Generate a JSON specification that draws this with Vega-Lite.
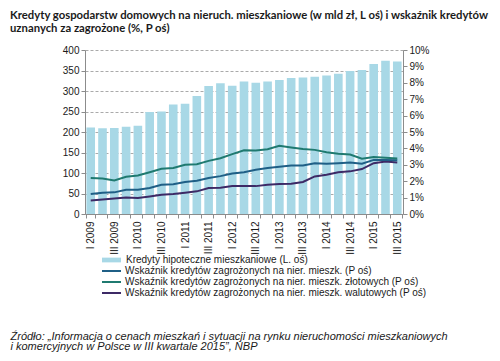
{
  "$schema": "https://vega.github.io/schema/vega-lite/v6.json",
  "autosize": "none",
  "width": 318,
  "height": 164,
  "padding": {"left": 85, "top": 50, "right": 97, "bottom": 147},
  "background": "white",
  "title": {
    "text": ["Kredyty gospodarstw domowych na nieruch. mieszkaniowe (w mld zł, L oś) i wskaźnik kredytów", "uznanych za zagrożone (%, P oś)"],
    "anchor": "start",
    "frame": "group",
    "font": "Lato",
    "fontSize": 11.3,
    "fontWeight": "bold",
    "color": "#1a1a1a",
    "dx": -75,
    "offset": 11,
    "lineHeight": 12.5
  },
  "datasets": {
    "kredyty": [
      {"q": "I 2009", "mld": 211}, {"q": "II 2009", "mld": 209}, {"q": "III 2009", "mld": 210}, {"q": "IV 2009", "mld": 213},
      {"q": "I 2010", "mld": 215}, {"q": "II 2010", "mld": 249}, {"q": "III 2010", "mld": 250}, {"q": "IV 2010", "mld": 267},
      {"q": "I 2011", "mld": 269}, {"q": "II 2011", "mld": 288}, {"q": "III 2011", "mld": 312}, {"q": "IV 2011", "mld": 319},
      {"q": "I 2012", "mld": 313}, {"q": "II 2012", "mld": 323}, {"q": "III 2012", "mld": 320}, {"q": "IV 2012", "mld": 323},
      {"q": "I 2013", "mld": 327}, {"q": "II 2013", "mld": 332}, {"q": "III 2013", "mld": 333}, {"q": "IV 2013", "mld": 335},
      {"q": "I 2014", "mld": 338}, {"q": "II 2014", "mld": 342}, {"q": "III 2014", "mld": 349}, {"q": "IV 2014", "mld": 351},
      {"q": "I 2015", "mld": 366}, {"q": "II 2015", "mld": 374}, {"q": "III 2015", "mld": 372}
    ],
    "wskazniki": [
      {"q": "I 2009", "s": "w", "p": 0.83}, {"q": "II 2009", "s": "w", "p": 0.89}, {"q": "III 2009", "s": "w", "p": 0.95}, {"q": "IV 2009", "s": "w", "p": 1.01},
      {"q": "I 2010", "s": "w", "p": 0.97}, {"q": "II 2010", "s": "w", "p": 1.07}, {"q": "III 2010", "s": "w", "p": 1.18}, {"q": "IV 2010", "s": "w", "p": 1.22},
      {"q": "I 2011", "s": "w", "p": 1.30}, {"q": "II 2011", "s": "w", "p": 1.38}, {"q": "III 2011", "s": "w", "p": 1.58}, {"q": "IV 2011", "s": "w", "p": 1.60},
      {"q": "I 2012", "s": "w", "p": 1.70}, {"q": "II 2012", "s": "w", "p": 1.70}, {"q": "III 2012", "s": "w", "p": 1.70}, {"q": "IV 2012", "s": "w", "p": 1.78},
      {"q": "I 2013", "s": "w", "p": 1.83}, {"q": "II 2013", "s": "w", "p": 1.85}, {"q": "III 2013", "s": "w", "p": 1.95}, {"q": "IV 2013", "s": "w", "p": 2.29},
      {"q": "I 2014", "s": "w", "p": 2.39}, {"q": "II 2014", "s": "w", "p": 2.55}, {"q": "III 2014", "s": "w", "p": 2.60}, {"q": "IV 2014", "s": "w", "p": 2.74},
      {"q": "I 2015", "s": "w", "p": 3.10}, {"q": "II 2015", "s": "w", "p": 3.20}, {"q": "III 2015", "s": "w", "p": 3.14},
      {"q": "I 2009", "s": "o", "p": 1.22}, {"q": "II 2009", "s": "o", "p": 1.30}, {"q": "III 2009", "s": "o", "p": 1.32}, {"q": "IV 2009", "s": "o", "p": 1.48},
      {"q": "I 2010", "s": "o", "p": 1.48}, {"q": "II 2010", "s": "o", "p": 1.58}, {"q": "III 2010", "s": "o", "p": 1.78}, {"q": "IV 2010", "s": "o", "p": 1.82},
      {"q": "I 2011", "s": "o", "p": 1.95}, {"q": "II 2011", "s": "o", "p": 2.03}, {"q": "III 2011", "s": "o", "p": 2.19}, {"q": "IV 2011", "s": "o", "p": 2.31},
      {"q": "I 2012", "s": "o", "p": 2.47}, {"q": "II 2012", "s": "o", "p": 2.55}, {"q": "III 2012", "s": "o", "p": 2.70}, {"q": "IV 2012", "s": "o", "p": 2.80},
      {"q": "I 2013", "s": "o", "p": 2.88}, {"q": "II 2013", "s": "o", "p": 2.96}, {"q": "III 2013", "s": "o", "p": 2.96}, {"q": "IV 2013", "s": "o", "p": 3.10},
      {"q": "I 2014", "s": "o", "p": 3.06}, {"q": "II 2014", "s": "o", "p": 3.10}, {"q": "III 2014", "s": "o", "p": 3.14}, {"q": "IV 2014", "s": "o", "p": 3.06},
      {"q": "I 2015", "s": "o", "p": 3.30}, {"q": "II 2015", "s": "o", "p": 3.30}, {"q": "III 2015", "s": "o", "p": 3.27},
      {"q": "I 2009", "s": "z", "p": 2.19}, {"q": "II 2009", "s": "z", "p": 2.17}, {"q": "III 2009", "s": "z", "p": 2.05}, {"q": "IV 2009", "s": "z", "p": 2.27},
      {"q": "I 2010", "s": "z", "p": 2.35}, {"q": "II 2010", "s": "z", "p": 2.55}, {"q": "III 2010", "s": "z", "p": 2.76}, {"q": "IV 2010", "s": "z", "p": 2.80},
      {"q": "I 2011", "s": "z", "p": 3.00}, {"q": "II 2011", "s": "z", "p": 3.04}, {"q": "III 2011", "s": "z", "p": 3.24}, {"q": "IV 2011", "s": "z", "p": 3.40},
      {"q": "I 2012", "s": "z", "p": 3.65}, {"q": "II 2012", "s": "z", "p": 3.88}, {"q": "III 2012", "s": "z", "p": 3.87}, {"q": "IV 2012", "s": "z", "p": 3.95},
      {"q": "I 2013", "s": "z", "p": 4.16}, {"q": "II 2013", "s": "z", "p": 4.06}, {"q": "III 2013", "s": "z", "p": 3.97}, {"q": "IV 2013", "s": "z", "p": 3.91},
      {"q": "I 2014", "s": "z", "p": 3.77}, {"q": "II 2014", "s": "z", "p": 3.67}, {"q": "III 2014", "s": "z", "p": 3.63}, {"q": "IV 2014", "s": "z", "p": 3.37},
      {"q": "I 2015", "s": "z", "p": 3.47}, {"q": "II 2015", "s": "z", "p": 3.43}, {"q": "III 2015", "s": "z", "p": 3.39}
    ]
  },
  "encoding": {
    "x": {
      "field": "q",
      "type": "ordinal",
      "sort": null,
      "scale": {"paddingInner": 0.27, "paddingOuter": 0.12},
      "axis": {
        "labelAngle": -90,
        "labelExpr": "indexof(datum.label, 'II ') == 0 || indexof(datum.label, 'IV') == 0 ? '' : datum.label",
        "tickBand": "extent",
        "tickSize": 4,
        "labelPadding": 3,
        "title": ["Źródło: „Informacja o cenach mieszkań i sytuacji na rynku nieruchomości mieszkaniowych", "i komercyjnych w Polsce w III kwartale 2015”, NBP"],
        "titleFontStyle": "italic",
        "titleFontWeight": "normal",
        "titleFont": "Liberation Sans",
        "titleFontSize": 11,
        "titleColor": "#1a1a1a",
        "titleAnchor": "start",
        "titleAlign": "left",
        "titleBaseline": "top",
        "titleX": -75,
        "titleY": 116,
        "titleLineHeight": 10.5
      }
    }
  },
  "layer": [
    {
      "data": {"name": "kredyty"},
      "mark": {"type": "bar", "color": "#a8d8e6"},
      "encoding": {
        "y": {
          "field": "mld",
          "type": "quantitative",
          "scale": {"domain": [0, 400]},
          "axis": {
            "values": [0, 50, 100, 150, 200, 250, 300, 350, 400],
            "title": null,
            "grid": true,
            "gridDash": [3, 2],
            "gridColor": "#aaaaaa",
            "tickSize": 4
          }
        },
        "fill": {
          "datum": "Kredyty hipoteczne mieszkaniowe (L. oś)",
          "scale": {"range": ["#a8d8e6"]},
          "legend": {
            "orient": "none",
            "legendX": 17,
            "legendY": 205,
            "title": null,
            "symbolType": "M-2,-0.5H2V0.5H-2Z",
            "symbolSize": 90,
            "symbolStrokeWidth": 0,
            "symbolOffset": 4.5,
            "labelOffset": 9.5,
            "padding": 0
          }
        }
      }
    },
    {
      "data": {"name": "wskazniki"},
      "mark": {"type": "line", "strokeWidth": 2},
      "encoding": {
        "y": {
          "field": "p",
          "type": "quantitative",
          "scale": {"domain": [0, 10]},
          "axis": {
            "orient": "right",
            "values": [0, 1, 2, 3, 4, 5, 6, 7, 8, 9, 10],
            "labelExpr": "datum.value + '%'",
            "title": null,
            "grid": false,
            "tickSize": 4
          }
        },
        "stroke": {
          "field": "s",
          "type": "nominal",
          "scale": {"domain": ["o", "z", "w"], "range": ["#1f5f86", "#1f7a70", "#3d2a66"]},
          "legend": {
            "orient": "none",
            "legendX": 17,
            "legendY": 215,
            "title": null,
            "symbolType": "M-2,0H2",
            "symbolSize": 90,
            "symbolStrokeWidth": 2,
            "symbolOffset": 3.5,
            "labelOffset": 7.5,
            "rowPadding": -0.5,
            "padding": 0,
            "labelExpr": "datum.value == 'o' ? 'Wskaźnik kredytów zagrożonych na nier. mieszk. (P oś)' : datum.value == 'z' ? 'Wskaźnik kredytów zagrożonych na nier. mieszk. złotowych (P oś)' : 'Wskaźnik kredytów zagrożonych na nier. mieszk. walutowych (P oś)'"
          }
        }
      }
    }
  ],
  "resolve": {"scale": {"y": "independent"}},
  "config": {
    "view": {"stroke": null},
    "axis": {
      "labelFont": "Liberation Sans",
      "labelFontSize": 10,
      "labelColor": "#1a1a1a",
      "domainColor": "#8c8c8c",
      "tickColor": "#8c8c8c",
      "grid": false
    },
    "legend": {
      "labelFont": "Liberation Sans",
      "labelFontSize": 10,
      "labelColor": "#1a1a1a",
      "labelLimit": 500
    }
  }
}
